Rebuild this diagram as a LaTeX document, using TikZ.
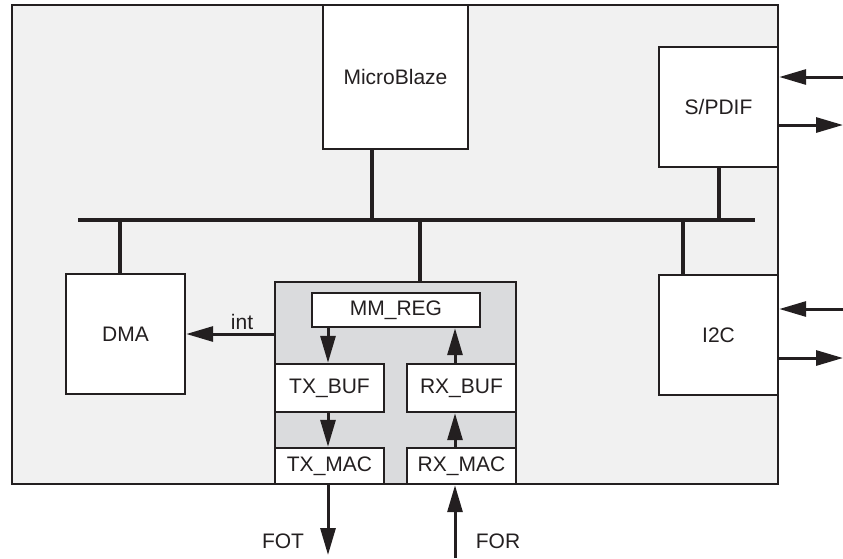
\documentclass[tikz,border=0pt]{standalone}
\usepackage{fontspec}
\setmainfont{Liberation Sans}
\usetikzlibrary{arrows.meta,calc}
\definecolor{ink}{HTML}{231F20}
\definecolor{chipbg}{HTML}{F1F1F1}
\definecolor{corebg}{HTML}{DADBDD}
\begin{document}
\begin{tikzpicture}[x=1pt,y=-1pt,
  every node/.style={font=\fontsize{21}{24}\selectfont, text=ink},
  blk/.style={draw=ink, line width=2.4pt, fill=white, rectangle, inner sep=0pt},
  busline/.style={draw=ink, line width=4pt},
  drop/.style={draw=ink, line width=3.4pt},
  arr/.style={draw=ink, line width=3pt, -{Triangle[length=27pt,width=15pt]}},
  lbl/.style={inner sep=0pt}
]
\useasboundingbox (0,0) rectangle (843,558);
% outer chip
\node[draw=ink, line width=2pt, fill=chipbg, rectangle, inner sep=0pt,
      minimum width=766pt, minimum height=479pt] (chip) at (395,244.5) {};
% boxes
\node[blk, minimum width=145pt, minimum height=144pt] (mb) at (395.5,77) {MicroBlaze};
\node[blk, minimum width=119pt, minimum height=120pt] (spdif) at (718.5,107) {S/PDIF};
\node[blk, minimum width=119pt, minimum height=120pt] (i2c) at (718.5,335) {I2C};
\node[blk, minimum width=119pt, minimum height=120pt] (dma) at (125.5,334) {DMA};
\node[blk, fill=corebg, minimum width=241pt, minimum height=202pt] (core) at (395.5,383) {};
\node[blk, minimum width=168pt, minimum height=34pt] (mmreg) at (396,310) {MM\_REG};
\node[blk, minimum width=109pt, minimum height=48pt] (txbuf) at (329.5,388) {TX\_BUF};
\node[blk, minimum width=109pt, minimum height=48pt] (rxbuf) at (461.5,388) {RX\_BUF};
\node[blk, minimum width=109pt, minimum height=36pt] (txmac) at (329.5,466) {TX\_MAC};
\node[blk, minimum width=109pt, minimum height=36pt] (rxmac) at (461.5,466) {RX\_MAC};
% bus
\coordinate (busL) at (78,220);
\coordinate (busR) at (755,220);
\draw[busline] (busL) -- (busR);
\draw[drop] (mb.south -| 372,0) -- (busL -| 372,0);
\draw[drop] (dma.north -| 120,0) -- (busL -| 120,0);
\draw[drop] (core.north -| 420,0) -- (busL -| 420,0);
\draw[drop] (spdif.south -| 719,0) -- (busL -| 719,0);
\draw[drop] (i2c.north -| 683,0) -- (busL -| 683,0);
% internal arrows
\draw[arr] (core.west |- dma.east) -- (dma.east);
\node[lbl] (intl) at (242,322) {int};
\draw[arr] (mmreg.south -| 328,0) -- (txbuf.north -| 328,0);
\draw[arr] (txbuf.south -| 328,0) -- (txmac.north -| 328,0);
\draw[arr] (rxmac.north -| 455,0) -- (rxbuf.south -| 455,0);
\draw[arr] (rxbuf.north -| 455,0) -- (mmreg.south -| 455,0);
% external I/O
\coordinate (fotEnd) at (328,555);
\coordinate (forStart) at (455,558);
\draw[arr] (txmac.south -| fotEnd) -- (fotEnd);
\draw[arr] (forStart) -- (rxmac.south -| forStart);
\node[lbl] (fot) at (283,541) {FOT};
\node[lbl] (for) at (498,541) {FOR};
\coordinate (sIn) at (843,77);
\coordinate (sOut) at (843,125);
\coordinate (iIn) at (843,309);
\coordinate (iOut) at (843,358);
\draw[arr] (sIn) -- (spdif.east |- sIn);
\draw[arr] (spdif.east |- sOut) -- (sOut);
\draw[arr] (iIn) -- (i2c.east |- iIn);
\draw[arr] (i2c.east |- iOut) -- (iOut);
\end{tikzpicture}
\end{document}
